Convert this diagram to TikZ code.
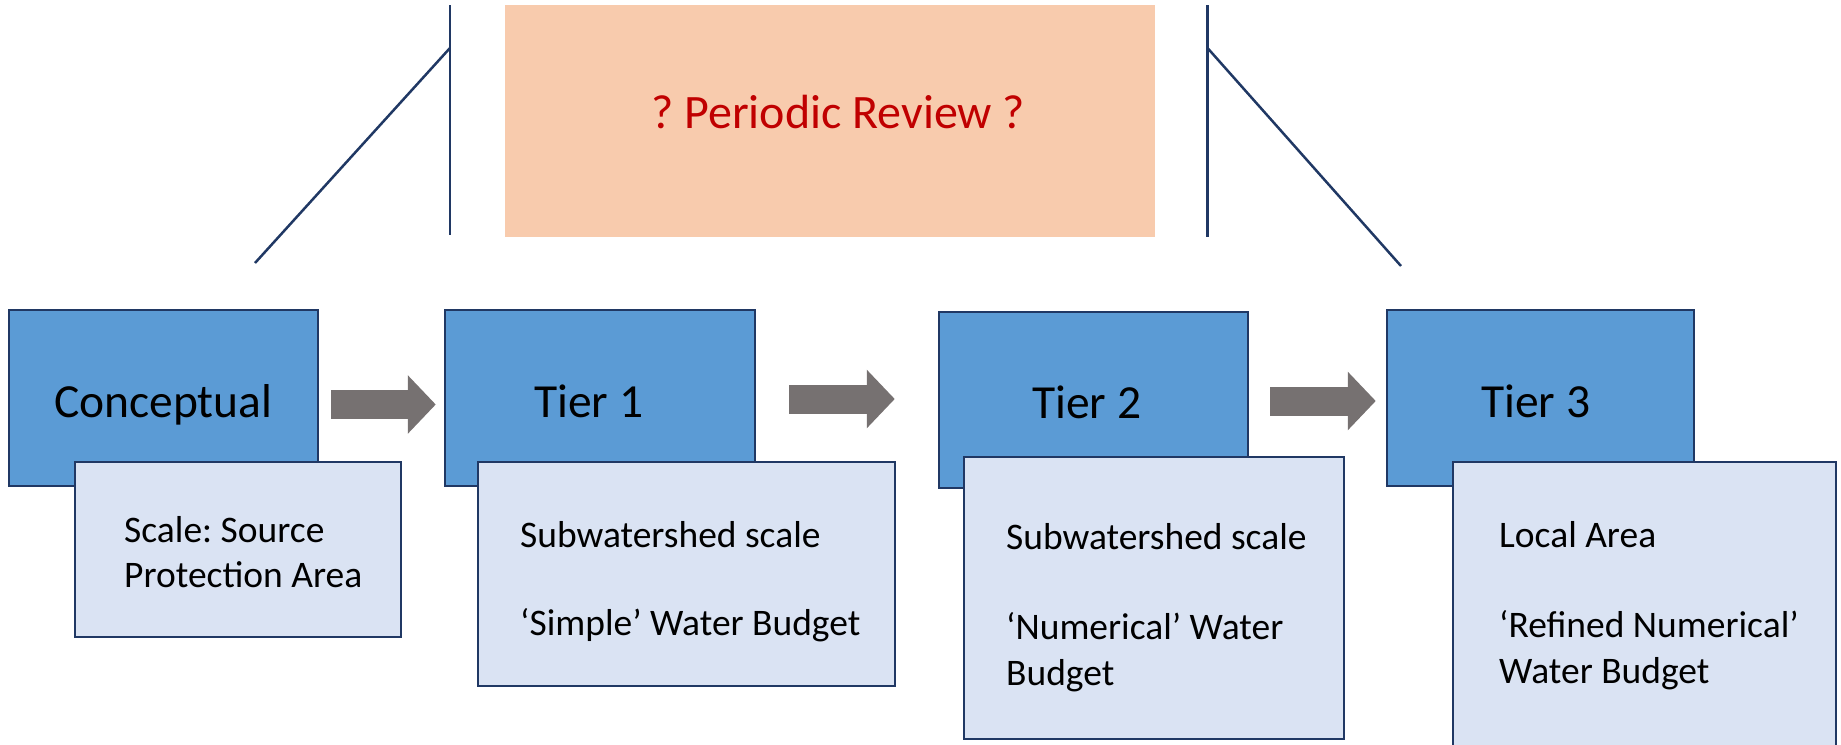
\documentclass[tikz,border=0pt]{standalone}
\usepackage{fontspec}
\setmainfont{Carlito}
\frenchspacing
\usetikzlibrary{arrows.meta,calc}
\definecolor{boxblue}{HTML}{5B9BD5}
\definecolor{boxlight}{HTML}{DAE3F3}
\definecolor{edgecol}{HTML}{203864}
\definecolor{peach}{HTML}{F8CBAD}
\definecolor{redtxt}{HTML}{C00000}
\definecolor{arrowgray}{HTML}{767171}
\begin{document}
\begin{tikzpicture}[x=1pt,y=-1pt,
  tierbox/.style={draw=edgecol, fill=boxblue, line width=2.5pt, rectangle, inner sep=0pt},
  infobox/.style={draw=edgecol, fill=boxlight, line width=2.5pt, rectangle, inner sep=0pt},
  reviewbox/.style={fill=peach, rectangle, inner sep=0pt},
  bigtext/.style={anchor=base west, inner sep=0pt, font=\fontsize{47.5}{57}\selectfont},
  smalltext/.style={anchor=base west, inner sep=0pt, font=\fontsize{37.5}{45}\selectfont},
  guideline/.style={draw=edgecol, line width=2.5pt},
  blockarrow/.style={draw=arrowgray, line width=29pt, -{Triangle[width=57pt,length=28pt]}}
]
\useasboundingbox (0,0) rectangle (1841,744);

% review box and bracket lines
\node[reviewbox, minimum width=650pt, minimum height=232pt] (review) at (830,121) {};
\node[anchor=base west, inner sep=0pt, text=redtxt, font=\fontsize{48}{58}\selectfont] (reviewtxt) at (651,128) {? Periodic Review ?};

\coordinate (lvtop) at (450,5);
\coordinate (lvbot) at (450,235);
\coordinate (lvmid) at (450,48);
\coordinate (ldend) at (255,263);
\coordinate (rvtop) at (1207.5,5);
\coordinate (rvbot) at (1207.5,237);
\coordinate (rvmid) at (1207.5,48);
\coordinate (rdend) at (1401,266);
\draw[guideline] (lvtop) -- (lvbot);
\draw[guideline] (lvmid) -- (ldend);
\draw[guideline] (rvtop) -- (rvbot);
\draw[guideline] (rvmid) -- (rdend);

% tier boxes
\node[tierbox, minimum width=309pt, minimum height=176pt] (c0) at (163.5,398) {};
\node[tierbox, minimum width=310pt, minimum height=176pt] (t1) at (600,398) {};
\node[tierbox, minimum width=309pt, minimum height=176pt] (t2) at (1093.5,400) {};
\node[tierbox, minimum width=307pt, minimum height=176pt] (t3) at (1540.5,398) {};

\node[bigtext] (c0txt) at (54,417) {Conceptual};
\node[bigtext] (t1txt) at (534,417) {Tier 1};
\node[bigtext] (t2txt) at (1032,418) {Tier 2};
\node[bigtext] (t3txt) at (1481,417) {Tier 3};

% info boxes
\node[infobox, minimum width=326pt, minimum height=175pt] (d0) at (238,549.5) {};
\node[infobox, minimum width=417pt, minimum height=224pt] (d1) at (686.5,574) {};
\node[infobox, minimum width=380pt, minimum height=282pt] (d2) at (1154,598) {};
\node[infobox, minimum width=383pt, minimum height=298pt] (d3) at (1644.5,611) {};

\node[smalltext] (d0a) at (124,542) {Scale: Source};
\node[smalltext] (d0b) at (124,587) {Protection Area};
\node[smalltext] (d1a) at (520,547) {Subwatershed scale};
\node[smalltext] (d1b) at (520,635) {‘Simple’ Water Budget};
\node[smalltext] (d2a) at (1006,549) {Subwatershed scale};
\node[smalltext] (d2b) at (1006,639) {‘Numerical’ Water};
\node[smalltext] (d2c) at (1006,685) {Budget};
\node[smalltext] (d3a) at (1499,547) {Local Area};
\node[smalltext] (d3b) at (1499,637) {‘Refined Numerical’};
\node[smalltext] (d3c) at (1499,683) {Water Budget};

% block arrows
\draw[blockarrow] ($(c0.east)+(12,6.5)$) -- ($(t1.west)+(-8,6.5)$);
\draw[blockarrow] ($(t1.east)+(33,1)$) -- ($(t2.west)+(-43,-1)$);
\draw[blockarrow] ($(t2.east)+(21,1)$) -- ($(t3.west)+(-10,3)$);
\end{tikzpicture}
\end{document}
